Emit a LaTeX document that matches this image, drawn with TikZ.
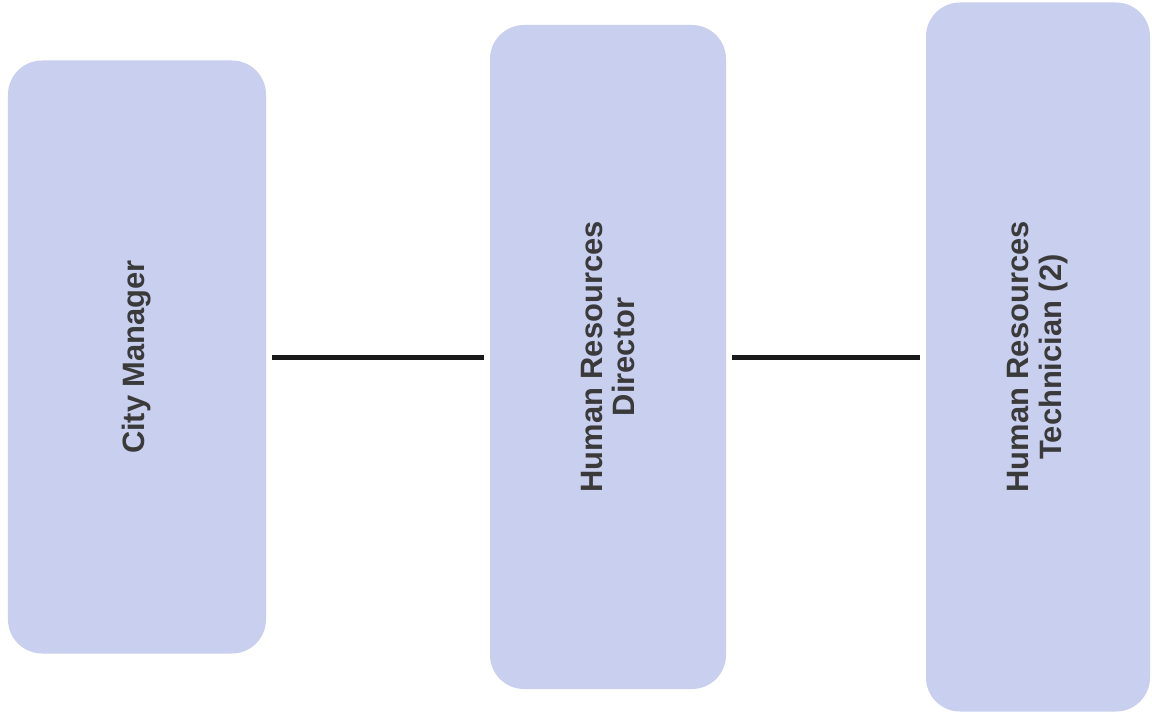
\documentclass[tikz,border=0pt]{standalone}
\usepackage{fontspec}
\setmainfont{Liberation Sans}
\definecolor{boxfill}{HTML}{C9D0EF}
\definecolor{txt}{HTML}{3A3A3A}
\begin{document}
\begin{tikzpicture}[x=1bp,y=-1bp,
  orgbox/.style={rotate=90,fill=boxfill,draw=none,rounded corners=34bp,
    inner sep=0pt,align=center,text=txt,font=\fontsize{31}{33}\selectfont\bfseries},
  link/.style={line width=5bp,draw=black!90,shorten <=6bp,shorten >=6bp}]
\useasboundingbox (0,0) rectangle (1152,719);
\node[orgbox,minimum width=593bp,minimum height=258bp] (cm) at (137,357) {City Manager};
\node[orgbox,minimum width=664bp,minimum height=236bp] (hrd) at (608,357) {Human Resources\\Director};
\node[orgbox,minimum width=709bp,minimum height=224bp] (hrt) at (1038,357) {Human Resources\\Technician (2)};
\draw[link] (cm) -- (hrd);
\draw[link] (hrd) -- (hrt);
\end{tikzpicture}
\end{document}
